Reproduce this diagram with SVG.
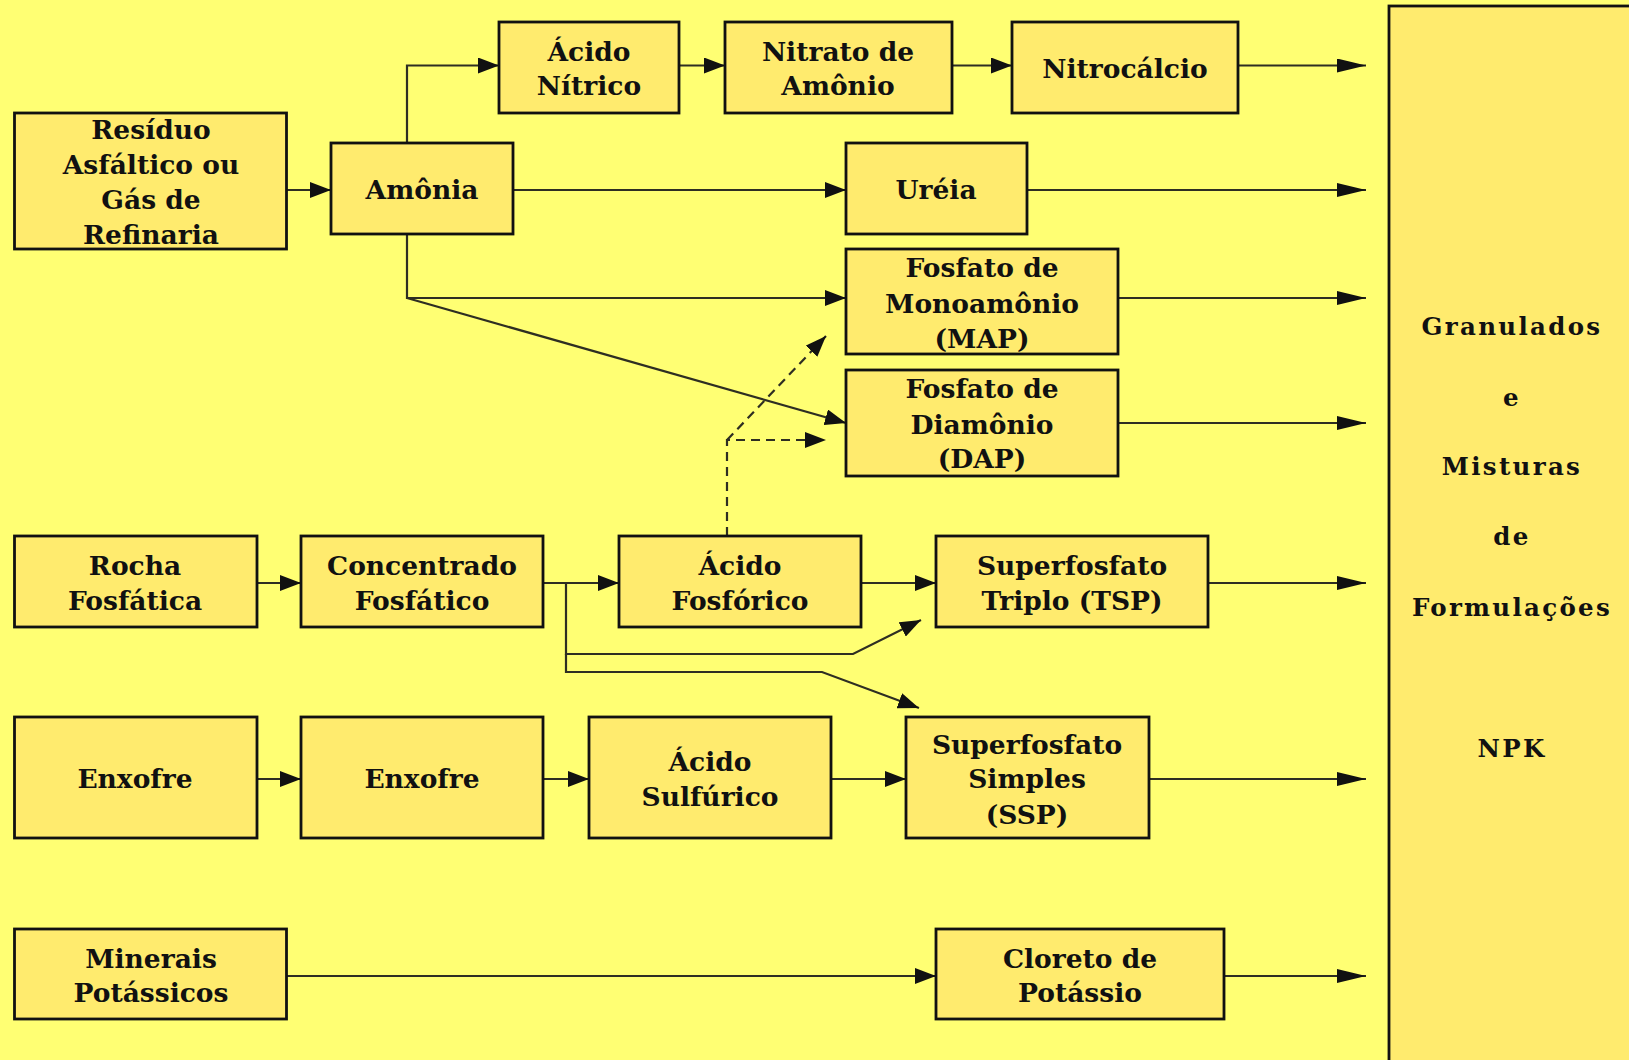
<svg xmlns="http://www.w3.org/2000/svg" width="1629" height="1060" viewBox="0 0 1629 1060">
<style>
.bg{fill:#FFFF73}
.box{fill:#FFEB6E;stroke:#111;stroke-width:2.8}
.t{font-family:"DejaVu Serif","Liberation Serif",serif;font-weight:bold;font-size:26.5px;fill:#111;text-anchor:middle}
.big{font-family:"DejaVu Serif","Liberation Serif",serif;font-weight:bold;font-size:24.5px;letter-spacing:2.3px;fill:#111;text-anchor:middle}
.c{fill:none;stroke:#2e2e22;stroke-width:2.2}
.d{fill:none;stroke:#2e2e22;stroke-width:2.2;stroke-dasharray:9,6}
</style>
<defs>
<marker id="a" markerUnits="userSpaceOnUse" markerWidth="22" markerHeight="16" refX="21" refY="8" orient="auto"><path d="M0,0 L21,8 L0,16 z" fill="#111"/></marker>
<marker id="b" markerUnits="userSpaceOnUse" markerWidth="30" markerHeight="14" refX="29" refY="7" orient="auto"><path d="M0,0 L29,7 L0,14 z" fill="#111"/></marker>
</defs>
<rect class="bg" x="0" y="0" width="1629" height="1060"/>
<g id="connectors">
<path class="c" d="M287,190 H331" marker-end="url(#a)"/>
<path class="c" d="M407,143 V65.5 H499" marker-end="url(#a)"/>
<path class="c" d="M679,65.5 H725" marker-end="url(#a)"/>
<path class="c" d="M952,65.5 H1012" marker-end="url(#a)"/>
<path class="c" d="M1238,65.5 H1366" marker-end="url(#b)"/>
<path class="c" d="M513,190 H846" marker-end="url(#a)"/>
<path class="c" d="M1027,190 H1366" marker-end="url(#b)"/>
<path class="c" d="M407,234 V298 H846" marker-end="url(#a)"/>
<path class="c" d="M407,298 L846,423" marker-end="url(#a)"/>
<path class="c" d="M1118,298 H1366" marker-end="url(#b)"/>
<path class="c" d="M1118,423 H1366" marker-end="url(#b)"/>
<path class="d" d="M727,536 V440 H826" marker-end="url(#a)"/>
<path class="d" d="M727,440 L826,336" marker-end="url(#a)"/>
<path class="c" d="M257,583 H301" marker-end="url(#a)"/>
<path class="c" d="M543,583 H619" marker-end="url(#a)"/>
<path class="c" d="M566,583 V654 H853 L921,620" marker-end="url(#a)"/>
<path class="c" d="M566,654 V672 H822 L919,708" marker-end="url(#a)"/>
<path class="c" d="M861,583 H936" marker-end="url(#a)"/>
<path class="c" d="M1208,583 H1366" marker-end="url(#b)"/>
<path class="c" d="M257,779 H301" marker-end="url(#a)"/>
<path class="c" d="M543,779 H589" marker-end="url(#a)"/>
<path class="c" d="M831,779 H906" marker-end="url(#a)"/>
<path class="c" d="M1149,779 H1366" marker-end="url(#b)"/>
<path class="c" d="M287,976 H936" marker-end="url(#a)"/>
<path class="c" d="M1224,976 H1366" marker-end="url(#b)"/>
</g>
<g id="n-residuo"><rect class="box" x="14.5" y="113" width="272" height="136"/><text class="t" x="151"><tspan x="151" y="139">Resíduo</tspan><tspan x="151" y="174">Asfáltico ou</tspan><tspan x="151" y="208.5">Gás de</tspan><tspan x="151" y="244">Refinaria</tspan></text></g>
<g id="n-amonia"><rect class="box" x="331" y="143" width="182" height="91"/><text class="t" x="422" y="199">Amônia</text></g>
<g id="n-acido-nitrico"><rect class="box" x="499" y="22" width="180" height="91"/><text class="t"><tspan x="589" y="61">Ácido</tspan><tspan x="589" y="95">Nítrico</tspan></text></g>
<g id="n-nitrato"><rect class="box" x="725" y="22" width="227" height="91"/><text class="t"><tspan x="838" y="61">Nitrato de</tspan><tspan x="838" y="95">Amônio</tspan></text></g>
<g id="n-nitrocalcio"><rect class="box" x="1012" y="22" width="226" height="91"/><text class="t" x="1125" y="78">Nitrocálcio</text></g>
<g id="n-ureia"><rect class="box" x="846" y="143" width="181" height="91"/><text class="t" x="936" y="199">Uréia</text></g>
<g id="n-map"><rect class="box" x="846" y="249" width="272" height="105"/><text class="t"><tspan x="982" y="277">Fosfato de</tspan><tspan x="982" y="313">Monoamônio</tspan><tspan x="982" y="348">(MAP)</tspan></text></g>
<g id="n-dap"><rect class="box" x="846" y="370" width="272" height="106"/><text class="t"><tspan x="982" y="398">Fosfato de</tspan><tspan x="982" y="434">Diamônio</tspan><tspan x="982" y="468">(DAP)</tspan></text></g>
<g id="n-rocha"><rect class="box" x="14.5" y="536" width="242.5" height="91"/><text class="t"><tspan x="135" y="575">Rocha</tspan><tspan x="135" y="609.5">Fosfática</tspan></text></g>
<g id="n-concentrado"><rect class="box" x="301" y="536" width="242" height="91"/><text class="t"><tspan x="422" y="575">Concentrado</tspan><tspan x="422" y="609.5">Fosfático</tspan></text></g>
<g id="n-acido-fosforico"><rect class="box" x="619" y="536" width="242" height="91"/><text class="t"><tspan x="740" y="575">Ácido</tspan><tspan x="740" y="609.5">Fosfórico</tspan></text></g>
<g id="n-tsp"><rect class="box" x="936" y="536" width="272" height="91"/><text class="t"><tspan x="1072" y="575">Superfosfato</tspan><tspan x="1072" y="609.5">Triplo (TSP)</tspan></text></g>
<g id="n-enxofre1"><rect class="box" x="14.5" y="717" width="242.5" height="121"/><text class="t" x="135" y="788">Enxofre</text></g>
<g id="n-enxofre2"><rect class="box" x="301" y="717" width="242" height="121"/><text class="t" x="422" y="788">Enxofre</text></g>
<g id="n-acido-sulfurico"><rect class="box" x="589" y="717" width="242" height="121"/><text class="t"><tspan x="710" y="770.5">Ácido</tspan><tspan x="710" y="806">Sulfúrico</tspan></text></g>
<g id="n-ssp"><rect class="box" x="906" y="717" width="243" height="121"/><text class="t"><tspan x="1027" y="754">Superfosfato</tspan><tspan x="1027" y="788">Simples</tspan><tspan x="1027" y="823.5">(SSP)</tspan></text></g>
<g id="n-minerais"><rect class="box" x="14.5" y="929" width="272" height="90"/><text class="t"><tspan x="151" y="968">Minerais</tspan><tspan x="151" y="1002">Potássicos</tspan></text></g>
<g id="n-cloreto"><rect class="box" x="936" y="929" width="288" height="90"/><text class="t"><tspan x="1080" y="968">Cloreto de</tspan><tspan x="1080" y="1002">Potássio</tspan></text></g>
<g id="n-npk"><rect class="box" x="1389" y="6" width="260" height="1070"/><text class="big"><tspan x="1512" y="335">Granulados</tspan><tspan x="1512" y="406">e</tspan><tspan x="1512" y="475">Misturas</tspan><tspan x="1512" y="545">de</tspan><tspan x="1512" y="616">Formulações</tspan><tspan x="1512" y="757">NPK</tspan></text></g>
</svg>
